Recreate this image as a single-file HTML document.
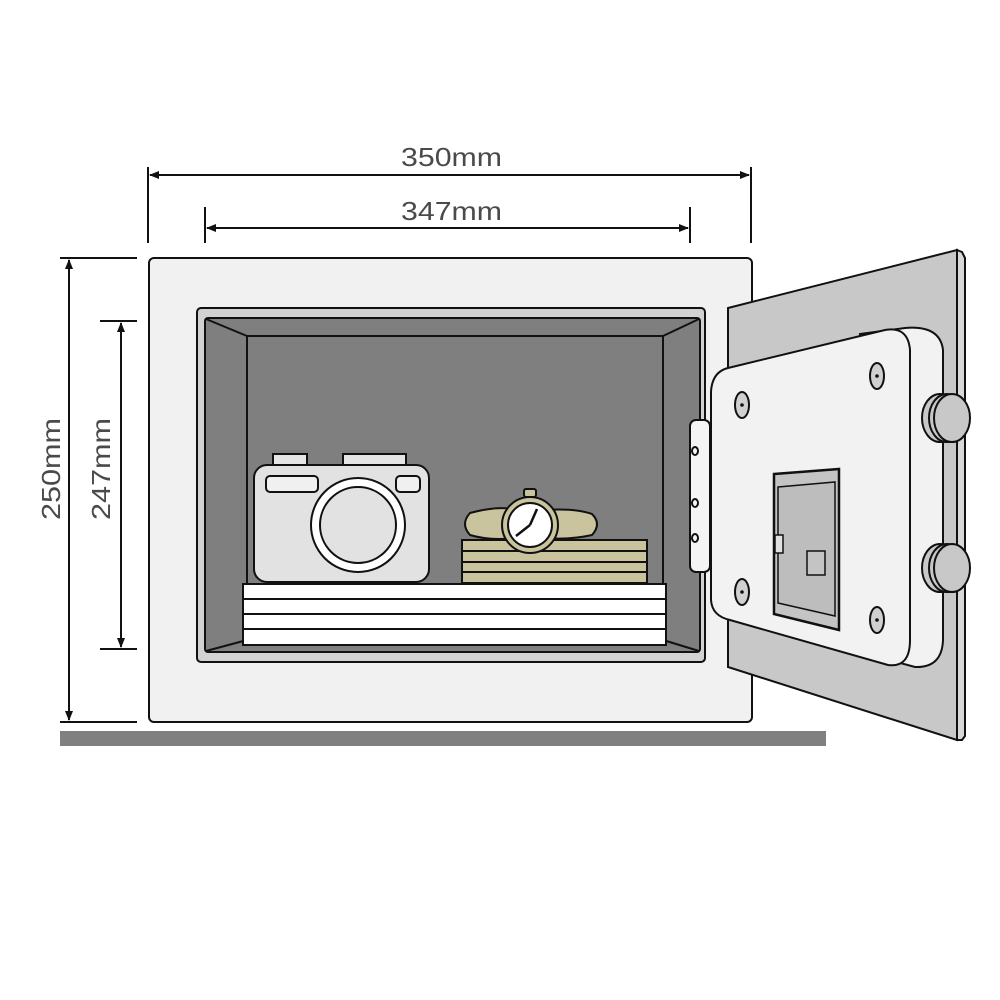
<!DOCTYPE html>
<html><head><meta charset="utf-8"><style>html,body{margin:0;padding:0;background:#fff}svg{display:block}</style></head>
<body>
<svg width="1000" height="1000" viewBox="0 0 1000 1000" xmlns="http://www.w3.org/2000/svg" font-family="Liberation Sans, sans-serif">
<defs>
<marker id="ar" viewBox="0 0 10 10" refX="9" refY="5" markerWidth="5" markerHeight="5" orient="auto-start-reverse"><path d="M10,5 L0,1 L0,9 Z" fill="#111"/></marker>
</defs>
<g stroke="#111" stroke-width="2" fill="none">
<line x1="148" y1="167" x2="148" y2="243"/><line x1="751" y1="167" x2="751" y2="243"/>
<line x1="150" y1="175" x2="749" y2="175" marker-start="url(#ar)" marker-end="url(#ar)"/>
<line x1="205" y1="207" x2="205" y2="243"/><line x1="690" y1="207" x2="690" y2="243"/>
<line x1="207" y1="228" x2="688" y2="228" marker-start="url(#ar)" marker-end="url(#ar)"/>
<line x1="60" y1="258" x2="137" y2="258"/><line x1="60" y1="722" x2="137" y2="722"/>
<line x1="69" y1="260" x2="69" y2="720" marker-start="url(#ar)" marker-end="url(#ar)"/>
<line x1="100" y1="321" x2="137" y2="321"/><line x1="100" y1="649" x2="137" y2="649"/>
<line x1="121" y1="323" x2="121" y2="647" marker-start="url(#ar)" marker-end="url(#ar)"/>
</g>
<g fill="#4a4a4a" font-size="26">
<text x="401" y="166" textLength="101" lengthAdjust="spacingAndGlyphs">350mm</text>
<text x="401" y="220" textLength="101" lengthAdjust="spacingAndGlyphs">347mm</text>
<text transform="translate(60,520) rotate(-90)" textLength="102" lengthAdjust="spacingAndGlyphs">250mm</text>
<text transform="translate(110,520) rotate(-90)" textLength="102" lengthAdjust="spacingAndGlyphs">247mm</text>
</g>
<rect x="60" y="731" width="766" height="15" fill="#808080"/>
<rect x="149" y="258" width="603" height="464" rx="5" fill="#f1f1f1" stroke="#111" stroke-width="2"/>
<rect x="197" y="308" width="508" height="354" rx="4" fill="#d2d2d2" stroke="#111" stroke-width="2"/>
<rect x="205" y="318" width="495" height="334" rx="3" fill="#7f7f7f" stroke="#111" stroke-width="2"/>
<g stroke="#111" stroke-width="2" fill="none">
<rect x="247" y="336" width="416" height="300"/>
<line x1="206" y1="319" x2="247" y2="336"/><line x1="699" y1="319" x2="663" y2="336"/>
<line x1="206" y1="651" x2="247" y2="640"/><line x1="699" y1="651" x2="663" y2="640"/>
</g>
<g stroke="#111" stroke-width="2" fill="#fff">
<rect x="243" y="584" width="423" height="61"/>
<line x1="243" y1="599" x2="666" y2="599"/><line x1="243" y1="614" x2="666" y2="614"/><line x1="243" y1="629" x2="666" y2="629"/>
</g>
<g stroke="#111" stroke-width="2" fill="#e2e2e2">
<rect x="273" y="454" width="34" height="13" fill="#e6e6e6"/>
<rect x="343" y="454" width="63" height="13" fill="#e6e6e6"/>
<rect x="254" y="465" width="175" height="117" rx="13"/>
<rect x="266" y="476" width="52" height="16" rx="4" fill="#f0f0f0"/>
<rect x="396" y="476" width="24" height="16" rx="4" fill="#f0f0f0"/>
<circle cx="358" cy="525" r="47" fill="#fff"/>
<circle cx="358" cy="525" r="38"/>
</g>
<g stroke="#111" stroke-width="2" fill="#c9c49e">
<rect x="462" y="540" width="185" height="43"/>
<line x1="462" y1="551" x2="647" y2="551"/><line x1="462" y1="562" x2="647" y2="562"/><line x1="462" y1="572" x2="647" y2="572"/>
<path d="M470,513 Q500,505 515,510 L515,538 Q490,541 470,535 Q460,524 470,513 Z"/>
<path d="M545,510 Q575,508 592,514 Q602,524 592,535 Q570,540 545,538 Z"/>
<rect x="524" y="489" width="12" height="8" rx="2"/>
<circle cx="530" cy="525" r="28"/>
<circle cx="530" cy="525" r="22" fill="#fff"/>
</g>
<g stroke="#111" stroke-width="2.5" fill="none"><line x1="530" y1="525" x2="537" y2="509"/><line x1="530" y1="525" x2="516" y2="536"/></g>
<polygon points="728,308 957,250 957,740 728,667" fill="#c8c8c8" stroke="#111" stroke-width="2"/>
<polygon points="957,250 962,252 965,258 965,736 962,740 957,740" fill="#d8d8d8" stroke="#111" stroke-width="2"/>
<rect x="690" y="420" width="20" height="152" rx="6" fill="#f4f4f4" stroke="#111" stroke-width="2"/>
<g fill="none" stroke="#111" stroke-width="2"><ellipse cx="695" cy="451" rx="3" ry="4"/><ellipse cx="695" cy="503" rx="3" ry="4"/><ellipse cx="695" cy="538" rx="3" ry="4"/></g>
<path d="M860,334 L905,328 Q940,325 943,350 L943,640 Q942,668 915,667 L860,652 Z" fill="#f2f2f2" stroke="#111" stroke-width="2"/>
<g stroke="#111" stroke-width="2" fill="#c8c8c8">
<ellipse cx="940" cy="418" rx="18" ry="24"/><ellipse cx="947" cy="418" rx="18" ry="24"/><ellipse cx="952" cy="418" rx="18" ry="24"/>
<ellipse cx="940" cy="568" rx="18" ry="24"/><ellipse cx="947" cy="568" rx="18" ry="24"/><ellipse cx="952" cy="568" rx="18" ry="24"/>
</g>
<path d="M728,368 L885,330 Q908,326 910,350 L910,640 Q910,668 888,665 L730,620 Q712,616 711,600 L711,392 Q712,372 728,368 Z" fill="#f2f2f2" stroke="#111" stroke-width="2"/>
<g stroke="#111" stroke-width="2" fill="#d0d0d0">
<ellipse cx="742" cy="405" rx="7" ry="13"/><ellipse cx="877" cy="376" rx="7" ry="13"/>
<ellipse cx="742" cy="592" rx="7" ry="13"/><ellipse cx="877" cy="620" rx="7" ry="13"/>
</g>
<g fill="#111"><circle cx="742" cy="405" r="1.8"/><circle cx="877" cy="376" r="1.8"/><circle cx="742" cy="592" r="1.8"/><circle cx="877" cy="620" r="1.8"/></g>
<polygon points="774,474 839,469 839,630 774,614" fill="#c4c4c4" stroke="#111" stroke-width="2.5"/>
<polygon points="778,487 835,482 835,616 778,603" fill="#bdbdbd" stroke="#111" stroke-width="1.5"/>
<rect x="775" y="535" width="8" height="18" fill="#e0e0e0" stroke="#111" stroke-width="1.5"/>
<rect x="807" y="551" width="18" height="24" fill="#c4c4c4" stroke="#111" stroke-width="1.5"/>
</svg>
</body></html>
